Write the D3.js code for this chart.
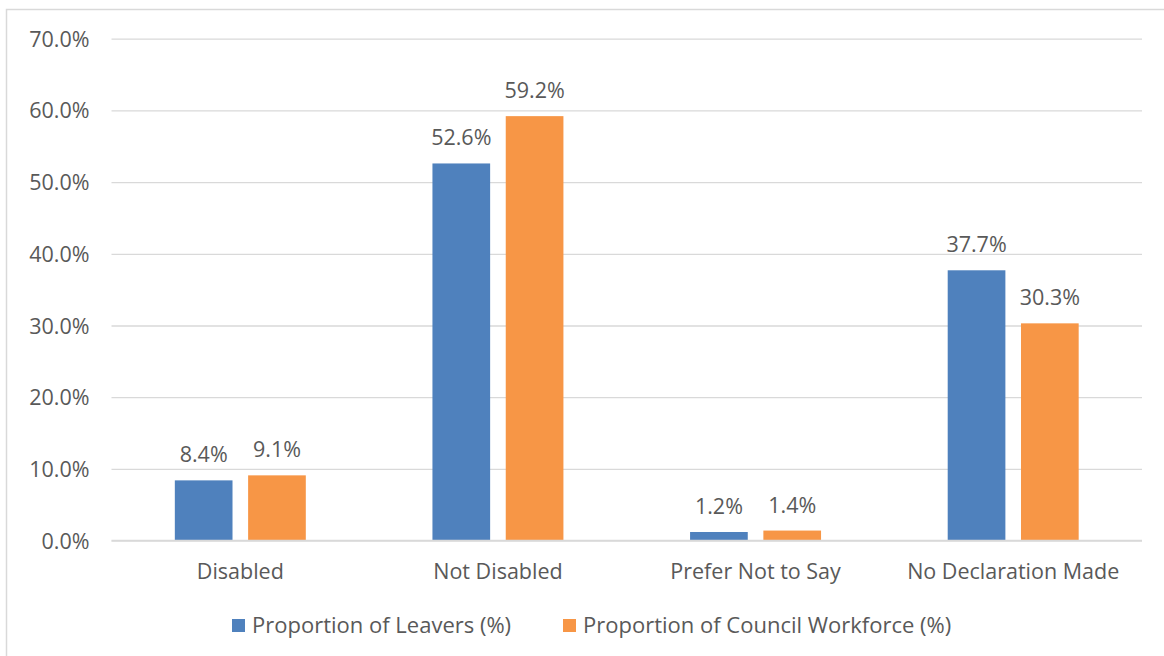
<!DOCTYPE html>
<html>
<head>
    <meta charset="utf-8">
    <script src="https://d3js.org/d3.v7.min.js"></script>
    <style>
        body { margin: 0; background: #fff; }
        text { font-family: "Open Sans", "Liberation Sans", sans-serif; fill: #595959; }
    </style>
</head>
<body>
    <svg></svg>
    <script>
        // chart data
        const categories = ["Disabled", "Not Disabled", "Prefer Not to Say", "No Declaration Made"];
        const seriesNames = ["Proportion of Leavers (%)", "Proportion of Council Workforce (%)"];
        const leavers = [8.4, 52.6, 1.2, 37.7];
        const workforce = [9.1, 59.2, 1.4, 30.3];
        const yTicks = [0, 10, 20, 30, 40, 50, 60, 70];
        const colors = ["#4f81bd", "#f79646"];

        const width = 1164, height = 656;
        const margin = { top: 38.7, right: 22, bottom: 115.4, left: 111.5 };
        const fontSize = "21.5px";

        const svg = d3.select("svg")
            .attr("width", width)
            .attr("height", height);

        // outer chart frame (open at right/bottom like the screenshot crop)
        svg.append("path")
            .attr("d", `M6.5,${height} V9.5 H${width}`)
            .attr("fill", "none")
            .attr("stroke", "#d9d9d9")
            .attr("stroke-width", 1.5);

        const x = d3.scaleBand()
            .domain(categories)
            .range([margin.left, width - margin.right]);

        const x1 = d3.scaleBand()
            .domain([0, 1])
            .range([0, x.bandwidth()])
            .paddingInner(0.213)
            .paddingOuter(0.864);

        const y = d3.scaleLinear()
            .domain([0, 70])
            .range([height - margin.bottom, margin.top]);

        // gridlines + y labels
        const yAxis = d3.axisLeft(y)
            .tickValues(yTicks)
            .tickSize(-(width - margin.left - margin.right))
            .tickPadding(22)
            .tickFormat(d => d.toFixed(1) + "%");

        const gy = svg.append("g")
            .attr("transform", `translate(${margin.left},0)`)
            .call(yAxis);
        gy.select(".domain").remove();
        gy.selectAll(".tick line").attr("stroke", "#d9d9d9").attr("stroke-width", 1.3);
        gy.selectAll(".tick text").style("font-size", fontSize).attr("fill", "#595959").attr("dy", "0.35em");

        // bars
        const series = [leavers, workforce];
        const groups = svg.append("g").selectAll("g")
            .data(categories)
            .join("g")
            .attr("transform", d => `translate(${x(d)},0)`);

        groups.selectAll("rect")
            .data((d, i) => series.map((s, k) => ({ k: k, v: s[i] })))
            .join("rect")
            .attr("x", d => x1(d.k))
            .attr("width", x1.bandwidth())
            .attr("y", d => y(d.v))
            .attr("height", d => y(0) - y(d.v))
            .attr("fill", d => colors[d.k]);

        groups.selectAll("text")
            .data((d, i) => series.map((s, k) => ({ k: k, v: s[i] })))
            .join("text")
            .attr("x", d => x1(d.k) + x1.bandwidth() / 2)
            .attr("y", d => y(d.v) - 18)
            .attr("text-anchor", "middle")
            .style("font-size", fontSize)
            .text(d => d.v.toFixed(1) + "%");

        // x axis line + labels
        svg.append("line")
            .attr("x1", margin.left).attr("x2", width - margin.right)
            .attr("y1", y(0)).attr("y2", y(0))
            .attr("stroke", "#d9d9d9").attr("stroke-width", 1.5);

        svg.append("g").selectAll("text")
            .data(categories)
            .join("text")
            .attr("x", d => x(d) + x.bandwidth() / 2)
            .attr("y", y(0) + 38)
            .attr("text-anchor", "middle")
            .style("font-size", fontSize)
            .text(d => d);

        // legend
        const legendX = [232, 563];
        const legend = svg.append("g").selectAll("g")
            .data(seriesNames)
            .join("g")
            .attr("transform", (d, i) => `translate(${legendX[i]},619)`);
        legend.append("rect")
            .attr("width", 13).attr("height", 13)
            .attr("fill", (d, i) => colors[i]);
        legend.append("text")
            .attr("x", 20).attr("y", 13.5)
            .style("font-size", "22px")
            .text(d => d);
    </script>
</body>
</html>
